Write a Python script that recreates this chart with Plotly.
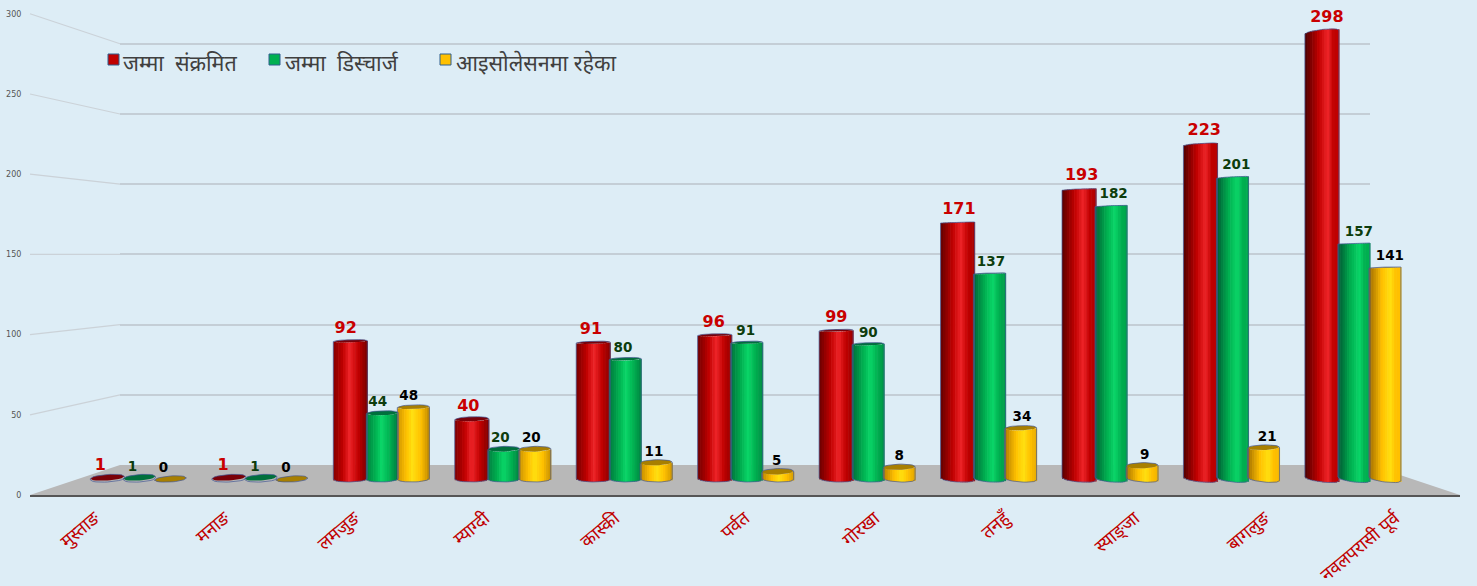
import math
import plotly.graph_objects as go

categories = ["मुस्ताङ", "मनाङ", "लमजुङ", "म्याग्दी", "कास्की", "पर्वत", "गोरखा", "तनहुँ", "स्याङ्जा", "बागलुङ", "नवलपरासी पूर्व"]
infected = [1, 1, 92, 40, 91, 96, 99, 171, 193, 223, 298]
discharged = [1, 1, 44, 20, 80, 91, 90, 137, 182, 201, 157]
isolation = [0, 0, 48, 20, 11, 5, 8, 34, 9, 21, 141]
series_names = ["जम्मा\u00a0\u00a0संक्रमित", "जम्मा\u00a0\u00a0डिस्चार्ज", "आइसोलेसनमा\u00a0रहेका"]
y_ticks = [0, 50, 100, 150, 200, 250, 300]

W, H = 1477, 586
BG = "#ddedf6"
FONT = "Noto Sans, Noto Sans Devanagari, Lohit Devanagari, FreeSans, sans-serif"
GROUP0, STEP = 139.4, 121.45      # px of first group centre, px per group
ZERO, PXU = 479.0, 1.5            # bars' zero line, px per unit
FRONT_Y, FRONT_PXU = 495.0, 1.604
WALL_Y, WALL_PXU = 465.0, 1.404
FRONT_L, FRONT_R, WALL_L, WALL_R = 30, 1460, 120, 1370

STYLES = [
    dict(vals=infected, left=-49, w=34, dark=(70, 0, 0), base=(192, 0, 0), bright=(238, 36, 40),
         cap="#7a0008", txt="#c90000", size=16),
    dict(vals=discharged, left=-16, w=32, dark=(0, 80, 48), base=(0, 176, 80), bright=(10, 214, 104),
         cap="#00703c", txt="#0d3d0d", size=13.5),
    dict(vals=isolation, left=15, w=32, dark=(150, 100, 0), base=(255, 192, 0), bright=(255, 224, 16),
         cap="#a87f00", txt="#000000", size=13.5),
]


def mix(a, b, t):
    return tuple(a[k] + (b[k] - a[k]) * t for k in range(3))


def rgb(c):
    return "rgb(%d,%d,%d)" % tuple(round(v) for v in c)


def shade(st, i, t):
    h = 0.42 + 0.025 * i
    dl = 0.35 + 0.06 * i
    dr = 0.75 - 0.075 * i
    edge_l = mix(st["base"], st["dark"], dl)
    edge_r = mix(st["base"], st["dark"], max(dr, 0))
    if t < h:
        f = t / h
        return mix(edge_l, st["base"], f / 0.6) if f < 0.6 else mix(st["base"], st["bright"], (f - 0.6) / 0.4)
    f = (t - h) / (1 - h)
    return mix(st["bright"], st["base"], f / 0.5) if f < 0.5 else mix(st["base"], edge_r, (f - 0.5) / 0.5)


def to_val(px):
    return (ZERO - px) / PXU


def rad(v):
    return 3 - 5.5 * v / 298


def tilt(v):
    if v < 5:
        return 1.2
    return 0.5 + max(v - 170, 0) / 128 * 1.5


def front_px(v, u):
    return ZERO - PXU * v + rad(v) * math.sqrt(max(1 - u * u, 0)) - tilt(v) * u


def back_px(v, u):
    return ZERO - PXU * v - rad(v) * math.sqrt(max(1 - u * u, 0)) - tilt(v) * u


def bottom_px(i, u):
    return ZERO + 3 * math.sqrt(max(1 - u * u, 0)) + (-1 + 0.3 * i) * u


fig = go.Figure()
n = len(categories)
idx = list(range(n))
SLICES = 14

for st in STYLES:
    vals = st["vals"]
    sw = st["w"] / SLICES
    for s in range(SLICES):
        t = (s + 0.5) / SLICES
        u = 2 * t - 1
        bases = [to_val(bottom_px(i, u)) for i in idx]
        tops = [to_val(front_px(vals[i], u)) for i in idx]
        heights = [0 if vals[i] <= 1 else tops[i] - bases[i] for i in idx]
        fig.add_trace(go.Bar(
            x=idx, y=heights, base=bases,
            width=(sw + 0.6) / STEP, offset=(st["left"] + s * sw) / STEP,
            marker=dict(color=[rgb(shade(st, i, t)) for i in idx], line=dict(width=0)),
            xaxis="x4", yaxis="y4", showlegend=False, hoverinfo="skip"))
    us = [k / 12 * 2 - 1 for k in range(13)]
    cx, cy, ox, oy = [], [], [], []
    for i in idx:
        v = vals[i]
        l = i + st["left"] / STEP
        wd = st["w"] / STEP
        xs = [l + (u + 1) / 2 * wd for u in us]
        if rad(v) > 0:
            cx += xs + xs[::-1] + [None]
            cy += [to_val(front_px(v, u)) for u in us] + [to_val(back_px(v, u)) for u in us[::-1]] + [None]
        ox += xs + xs[::-1] + [xs[0], None]
        top_edge = [to_val(back_px(v, u)) if rad(v) > 0 else to_val(front_px(v, u)) for u in us]
        oy += top_edge + [to_val(bottom_px(i, u)) for u in us[::-1]] + [top_edge[0], None]
    fig.add_trace(go.Scatter(x=cx, y=cy, mode="lines", fill="toself", fillcolor=st["cap"],
                             line=dict(width=0), xaxis="x4", yaxis="y4", showlegend=False, hoverinfo="skip"))
    fig.add_trace(go.Scatter(x=ox, y=oy, mode="lines", line=dict(color="rgba(70,90,150,0.7)", width=1),
                             xaxis="x4", yaxis="y4", showlegend=False, hoverinfo="skip"))
    fig.add_trace(go.Scatter(
        x=[i + (st["left"] + st["w"] / 2 - 7 + 1.2 * i) / STEP for i in idx],
        y=[v + (11.5 + 2.5 * v / 298 - (1.5 if st["size"] < 16 else 0)) / PXU for v in vals],
        text=[str(v) for v in vals], mode="text", textposition="middle center",
        textfont=dict(family="DejaVu Sans", size=st["size"], color=st["txt"], weight="bold"),
        xaxis="x4", yaxis="y4", showlegend=False, hoverinfo="skip", cliponaxis=False))


def P(x, y):
    return x / W, 1 - y / H


fig.add_trace(go.Scatter(x=[FRONT_L, FRONT_R, WALL_R, WALL_L, FRONT_L], y=[FRONT_Y, FRONT_Y, WALL_Y, WALL_Y, FRONT_Y],
                         mode="lines", fill="toself", fillcolor="#b8b8b8", line=dict(width=0),
                         xaxis="x3", yaxis="y3", showlegend=False, hoverinfo="skip"))
for v in y_ticks[1:]:
    fig.add_trace(go.Scatter(x=[FRONT_L, WALL_L], y=[FRONT_Y - FRONT_PXU * v, WALL_Y - WALL_PXU * v], mode="lines",
                             line=dict(color="#cbd2d8", width=1.2), xaxis="x3", yaxis="y3",
                             showlegend=False, hoverinfo="skip"))

# legend
shapes = []
leg_sw = [108, 269, 440]
leg_tx = [123, 285, 456]
for k, st in enumerate(STYLES):
    x0, y0 = P(leg_sw[k], 54)
    x1, y1 = P(leg_sw[k] + 11, 65)
    shapes.append(dict(type="rect", xref="paper", yref="paper", x0=x0, x1=x1, y0=y1, y1=y0,
                       fillcolor=rgb(st["base"]), line=dict(color="#2f5f8f", width=1)))
annotations = [dict(xref="paper", yref="paper", x=leg_tx[k] / W, y=1 - 62 / H, text=series_names[k],
                    showarrow=False, xanchor="left", yanchor="middle", xshift=-2,
                    font=dict(family=FONT, size=21.5, color="#404040")) for k in range(3)]

fig.update_layout(
    width=W, height=H, autosize=False, margin=dict(l=0, r=0, t=0, b=0, autoexpand=False),
    paper_bgcolor=BG, plot_bgcolor="rgba(0,0,0,0)", barmode="overlay", showlegend=False,
    shapes=shapes, annotations=annotations,
    # front axes
    xaxis=dict(domain=[FRONT_L / W, FRONT_R / W], type="category", categoryorder="array", categoryarray=categories,
               tickvals=categories, range=[-0.5, n - 0.5], showgrid=False, showline=True, linecolor="#555555",
               linewidth=1.5, zeroline=False, tickangle=-40, ticks="", ticklabelstandoff=4, automargin=False,
               tickfont=dict(family=FONT, size=18, color="#c00000"), anchor="y", fixedrange=True),
    yaxis=dict(domain=[1 - FRONT_Y / H, 1], range=[0, FRONT_Y / FRONT_PXU], tickvals=y_ticks, showgrid=False,
               showline=False, zeroline=False, ticks="outside", ticklen=6, tickcolor=BG, automargin=False,
               tickfont=dict(family="DejaVu Sans", size=8, color="#555555"), anchor="x", fixedrange=True),
    # back wall
    xaxis2=dict(domain=[WALL_L / W, WALL_R / W], range=[0, 1], visible=False, anchor="y2", automargin=False),
    yaxis2=dict(domain=[1 - WALL_Y / H, 1], range=[0, WALL_Y / WALL_PXU], tickvals=y_ticks, showgrid=True,
                gridcolor="#c4ced6", gridwidth=1.6, zeroline=False, showticklabels=False, ticks="", showline=False,
                anchor="x2", fixedrange=True, automargin=False),
    # pixel frame for floor
    xaxis3=dict(domain=[0, 1], range=[0, W], visible=False, anchor="y3", automargin=False),
    yaxis3=dict(domain=[0, 1], range=[H, 0], visible=False, anchor="x3", automargin=False),
    # bars, full-frame
    xaxis4=dict(domain=[0, 1], range=[-GROUP0 / STEP, (W - GROUP0) / STEP], visible=False, anchor="y4", automargin=False),
    yaxis4=dict(domain=[0, 1], range=[to_val(H), to_val(0)], visible=False, anchor="x4", automargin=False),
)
# invisible traces so the front and wall axes are drawn
fig.add_trace(go.Scatter(x=categories, y=[0] * n, mode="markers", marker=dict(opacity=0), xaxis="x", yaxis="y",
                         showlegend=False, hoverinfo="skip"))
fig.add_trace(go.Scatter(x=[0, 1], y=[0, 0], mode="markers", marker=dict(opacity=0), xaxis="x2", yaxis="y2",
                         showlegend=False, hoverinfo="skip"))
fig.write_html("out.html", config=dict(displayModeBar=False),
               post_script="document.body.style.margin='0';document.body.style.background='%s';" % BG)
